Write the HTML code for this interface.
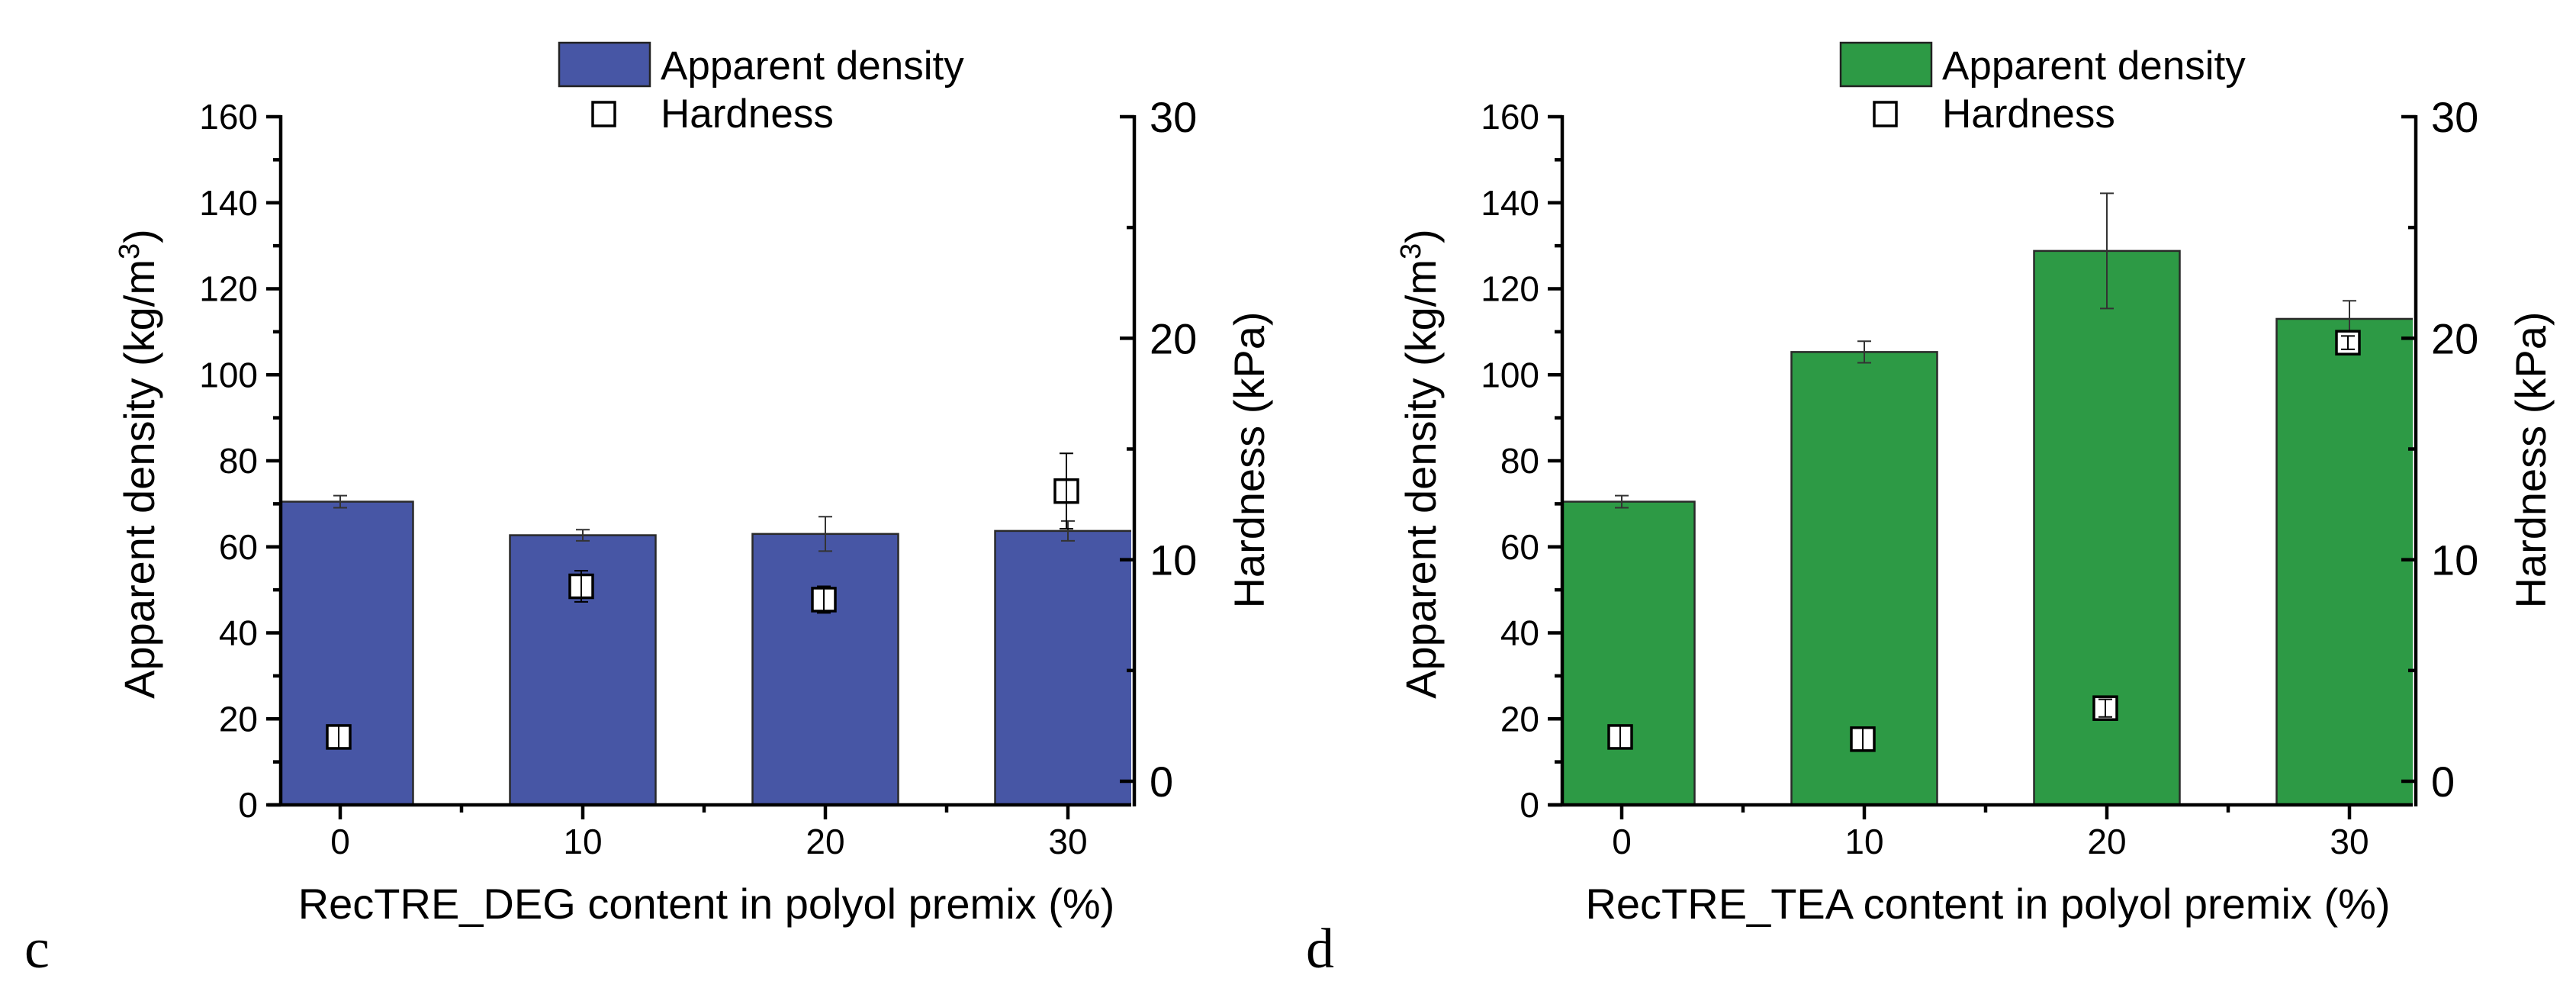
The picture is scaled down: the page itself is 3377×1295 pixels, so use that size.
<!DOCTYPE html>
<html><head><meta charset="utf-8">
<style>
html,body{margin:0;padding:0;background:#fff;}
svg{display:block;font-family:"Liberation Sans",Arial,sans-serif;}
</style></head>
<body>
<svg id="fig" width="3377" height="1295" viewBox="0 0 3377 1295" xmlns="http://www.w3.org/2000/svg"></svg>
<script>
const categories = [0, 10, 20, 30];
const densityC = [70.5, 62.7, 63.0, 63.7];
const densityErrC = [1.4, 1.3, 4.0, 2.3];
const hardnessC = [2.0, 8.8, 8.2, 13.1];
const hardnessErrC = [0.5, 0.7, 0.6, 1.7];
const densityD = [70.5, 105.3, 128.8, 113.0];
const densityErrD = [1.4, 2.5, 13.4, 4.2];
const hardnessD = [2.0, 1.9, 3.3, 19.8];
const hardnessErrD = [0.5, 0.5, 0.4, 0.3];
const leftTicks = [0, 20, 40, 60, 80, 100, 120, 140, 160];
const rightTicks = [0, 10, 20, 30];

const NS = "http://www.w3.org/2000/svg";
const svg = document.getElementById('fig');
function mk(tag, attrs, parent, text) {
  const e = document.createElementNS(NS, tag);
  for (const k in attrs) e.setAttribute(k, attrs[k]);
  if (text !== undefined) e.textContent = text;
  (parent || svg).appendChild(e);
  return e;
}

function panel(off, color, dens, densErr, hard, hardErr, xtitle, letter, key) {
  const g = mk('g', {});
  
  
  const L = 368 + off, R = 1483 + off, RA = 1487 + off, T = 153, B = 1055;
  const yL = v => B - (v / 160) * (B - T);
  const yR = v => 1024 - (v / 30) * (1024 - T);
  const x = c => 446 + off + (c / 10) * 318;
  const bw = 191;

  const clip = mk('clipPath', {id: 'clip' + key}, g);
  mk('rect', {x: L, y: 0, width: R - L, height: B}, clip);

  const bars = mk('g', {'clip-path': 'url(#clip' + key + ')'}, g);
  categories.forEach((c, i) => {
    const r = mk('rect', {x: x(c) - bw / 2, y: yL(dens[i]), width: bw, height: B - yL(dens[i]), fill: color, stroke: '#2a2a2a', 'stroke-width': 2.5}, bars);
    
    
  });
  categories.forEach((c, i) => {
    const e = mk('g', {stroke: '#333', 'stroke-width': 2, fill: 'none'}, g);
    
    
    const y1 = yL(dens[i] + densErr[i]), y2 = yL(dens[i] - densErr[i]), xc = x(c);
    mk('line', {x1: xc, x2: xc, y1: y1, y2: y2}, e);
    mk('line', {x1: xc - 9, x2: xc + 9, y1: y1, y2: y1}, e);
    mk('line', {x1: xc - 9, x2: xc + 9, y1: y2, y2: y2}, e);
  });
  categories.forEach((c, i) => {
    const xc = x(c) - 2, yc = yR(hard[i]);
    const m = mk('g', {}, g);
    
    
    mk('rect', {x: xc - 15, y: yc - 15, width: 30, height: 30, fill: '#fff', stroke: '#000', 'stroke-width': 3.5}, m);
    const y1 = yR(hard[i] + hardErr[i]), y2 = yR(hard[i] - hardErr[i]);
    mk('line', {x1: xc, x2: xc, y1: y1, y2: y2, stroke: '#000', 'stroke-width': 2}, m);
    mk('line', {x1: xc - 9, x2: xc + 9, y1: y1, y2: y1, stroke: '#000', 'stroke-width': 2}, m);
    mk('line', {x1: xc - 9, x2: xc + 9, y1: y2, y2: y2, stroke: '#000', 'stroke-width': 2}, m);
  });

  const ax = mk('g', {stroke: '#000', 'stroke-width': 4.5, fill: 'none'}, g);
  
  
  mk('line', {x1: L, x2: L, y1: T - 2, y2: B + 2}, ax);
  mk('line', {x1: L - 17, x2: R, y1: B, y2: B}, ax);
  mk('line', {x1: RA, x2: RA, y1: T - 2, y2: B + 2}, ax);
  for (let v = 0; v <= 160; v += 10) {
    const len = v % 20 === 0 ? 19 : 10;
    mk('line', {x1: L - len, x2: L, y1: yL(v), y2: yL(v)}, ax);
  }
  for (let v = 0; v <= 30; v += 5) {
    const len = v % 10 === 0 ? 19 : 10;
    mk('line', {x1: RA - len, x2: RA, y1: yR(v), y2: yR(v)}, ax);
  }
  categories.forEach(c => mk('line', {x1: x(c), x2: x(c), y1: B, y2: B + 19}, ax));
  [5, 15, 25].forEach(c => mk('line', {x1: x(c), x2: x(c), y1: B, y2: B + 10}, ax));

  leftTicks.forEach(v => {
    const t = mk('text', {x: L - 30, y: yL(v) + 16, 'text-anchor': 'end', 'font-size': 46}, g, String(v));
    
    
  });
  rightTicks.forEach(v => {
    const t = mk('text', {x: RA + 20, y: yR(v) + 20, 'font-size': 56}, g, String(v));
    
    
  });
  categories.forEach(c => {
    const t = mk('text', {x: x(c), y: B + 64, 'text-anchor': 'middle', 'font-size': 46}, g, String(c));
    
    
  });

  const yt = mk('text', {x: 0, y: 0, 'text-anchor': 'middle', 'font-size': 56, transform: 'translate(' + (202 + off) + ',608) rotate(-90)'}, g);
  
  
  mk('tspan', {}, yt, 'Apparent density (kg/m');
  mk('tspan', {dy: -20, 'font-size': 38}, yt, '3');
  mk('tspan', {dy: 20}, yt, ')');

  const rt = mk('text', {x: 0, y: 0, 'text-anchor': 'middle', 'font-size': 56, transform: 'translate(' + (1657 + off) + ',603) rotate(-90)'}, g, 'Hardness (kPa)');
  
  

  const xt = mk('text', {x: 926 + off, y: 1204, 'text-anchor': 'middle', 'font-size': 56}, g, xtitle);
  
  

  const lt = mk('text', {x: 32 + off, y: 1268, 'font-size': 74, 'font-family': '"Liberation Serif", serif'}, g, letter);
  
  

  const lg = mk('g', {}, g);
  
  
  mk('rect', {x: 733 + off, y: 56, width: 119, height: 57, fill: color, stroke: '#222', 'stroke-width': 2.5}, lg);
  const l1 = mk('text', {x: 866 + off, y: 104, 'font-size': 53}, lg, 'Apparent density');
  
  
  mk('rect', {x: 777 + off, y: 134, width: 29, height: 31, fill: '#fff', stroke: '#000', 'stroke-width': 3.5}, lg);
  const l2 = mk('text', {x: 866 + off, y: 167, 'font-size': 53}, lg, 'Hardness');
  
  
}

panel(0, '#4756a5', densityC, densityErrC, hardnessC, hardnessErrC, 'RecTRE_DEG content in polyol premix (%)', 'c', 'c');
panel(1680, '#2d9a45', densityD, densityErrD, hardnessD, hardnessErrD, 'RecTRE_TEA content in polyol premix (%)', 'd', 'd');
</script>
</body></html>
